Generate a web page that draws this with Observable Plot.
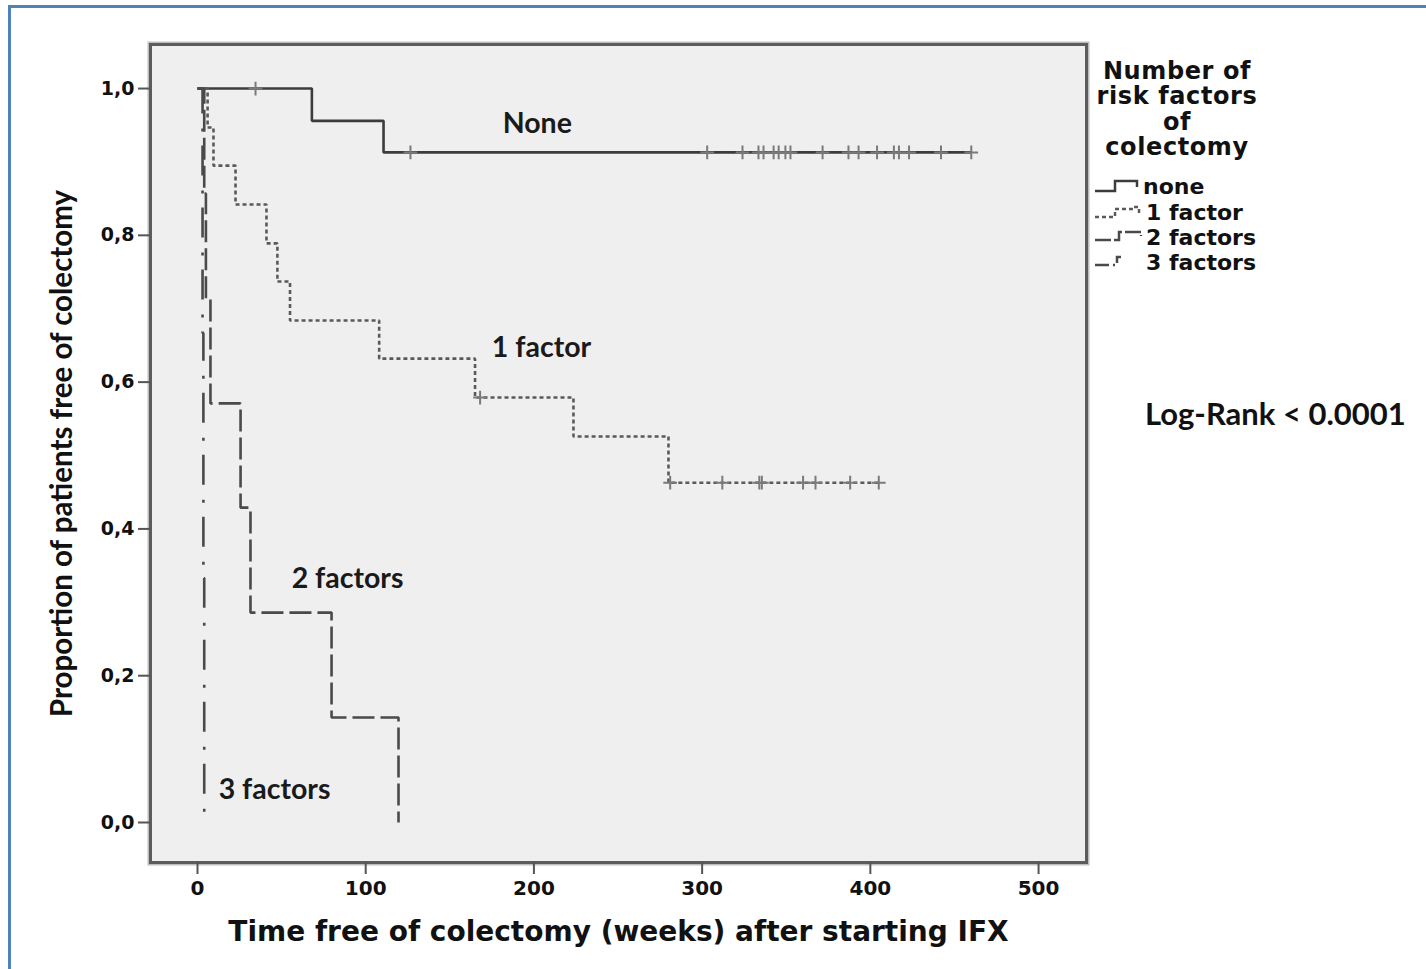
<!DOCTYPE html>
<html>
<head>
<meta charset="utf-8">
<script src="https://cdn.jsdelivr.net/npm/d3@7"></script>
<script src="https://cdn.jsdelivr.net/npm/@observablehq/plot@0.6"></script>
<style>
  body { margin: 0; background: #fff; }
  #wrap { position: relative; width: 1426px; height: 969px; overflow: hidden; background: #fff; }
  #border { position: absolute; left: 8px; top: 5px; width: 1430px; height: 980px;
            border-left: 3px solid #4f81bd; border-top: 3px solid #4f81bd; }
  #chart { position: absolute; left: 0; top: 0; }
  .leg { position: absolute; font-family: "DejaVu Sans", sans-serif; font-weight: bold; color: #111; white-space: nowrap; }
  #legtitle { left: 1077px; width: 200px; top: 59px; text-align: center; font-size: 24px; letter-spacing: 0.6px; line-height: 25.3px; }
  .item { font-size: 22px; line-height: 25px; }
  .sw { position: absolute; }
  #logrank { position: absolute; left: 1145px; top: 393px; font-family: Lato, sans-serif; font-weight: 700; font-size: 31px; line-height: 40px; color: #111; white-space: nowrap; }
</style>
</head>
<body>
<div id="wrap">
  <div id="border"></div>
  <div id="chart"></div>
  <div id="legend"></div>
  <div id="logrank">Log-Rank &lt; 0.0001</div>
</div>
<script>
// ---- data ----
const groups = ["None", "1 factor", "2 factors", "3 factors"];
const legendNames = ["none", "1 factor", "2 factors", "3 factors"];
const legendTitle = ["Number of", "risk factors", "of", "colectomy"];

const noneTimes = [0, 68, 110.6, 460];
const noneSurv  = [1, 0.956, 0.913, 0.913];
const noneCensorT = [34.5, 126.6, 303, 324, 333.5, 336.5, 342.5, 345.5, 349.5, 352.5, 371.6, 387, 393, 404, 414, 417, 423, 442, 460];
const noneCensorS = [1, 0.913, 0.913, 0.913, 0.913, 0.913, 0.913, 0.913, 0.913, 0.913, 0.913, 0.913, 0.913, 0.913, 0.913, 0.913, 0.913, 0.913, 0.913];

const oneTimes = [0, 6, 9.5, 22.6, 41, 47.5, 55, 108, 165, 223.5, 280, 405];
const oneSurv  = [1, 0.947, 0.895, 0.842, 0.789, 0.737, 0.684, 0.632, 0.579, 0.526, 0.463, 0.463];
const oneCensorT = [168, 281, 312, 334, 335.5, 360, 367.4, 388, 405];
const oneCensorS = [0.579, 0.463, 0.463, 0.463, 0.463, 0.463, 0.463, 0.463, 0.463];

const twoTimes = [0, 4, 5, 7.7, 25.6, 31.5, 79.7, 119.5];
const twoSurv  = [1, 0.857, 0.714, 0.571, 0.429, 0.286, 0.143, 0];

const threeTimes = [0, 3, 3.5, 4];
const threeSurv  = [1, 0.667, 0.333, 0];

const xTicks = [0, 100, 200, 300, 400, 500];
const yTicks = [0, 0.2, 0.4, 0.6, 0.8, 1.0];

const labelText = ["None", "1 factor", "2 factors", "3 factors"];
const labelT = [202, 204.5, 89.2, 45.8];
const labelS = [0.952, 0.646, 0.332, 0.045];

const xTitle = "Time free of colectomy (weeks) after starting IFX";
const yTitle = "Proportion of patients free of colectomy";

// ---- styles per group ----
const styles = {
  "None":      {stroke: "#3c3c3c", dash: null},
  "1 factor":  {stroke: "#5a5a5a", dash: "4,3"},
  "2 factors": {stroke: "#4a4a4a", dash: "22,6"},
  "3 factors": {stroke: "#4a4a4a", dash: "30,15,3,14"}
};

const series = [
  {g: "None", t: noneTimes, s: noneSurv},
  {g: "1 factor", t: oneTimes, s: oneSurv},
  {g: "2 factors", t: twoTimes, s: twoSurv},
  {g: "3 factors", t: threeTimes, s: threeSurv}
];

const stepRows = s => s.t.map((t, i) => ({t, s: s.s[i], g: s.g}));

const censorRows = [
  ...noneCensorT.map((t, i) => ({t, s: noneCensorS[i]})),
  ...oneCensorT.map((t, i) => ({t, s: oneCensorS[i]}))
];

const labels = labelText.map((text, i) => ({text, t: labelT[i], s: labelS[i]}));

const fmt = d => d.toFixed(1).replace(".", ",");

const lineMarks = series.map(s => Plot.line(stepRows(s), {
  x: "t", y: "s", curve: "step-after",
  stroke: styles[s.g].stroke, strokeWidth: 2.6,
  strokeDasharray: styles[s.g].dash || undefined,
  strokeLinecap: "butt", strokeLinejoin: "miter"
}));

const chart = Plot.plot({
  width: 1426,
  height: 969,
  marginLeft: 150,
  marginRight: 340,
  marginTop: 44,
  marginBottom: 107,
  style: {background: "transparent", fontFamily: "DejaVu Sans"},
  x: {domain: [-27.94, 528.5]},
  y: {domain: [-0.0545, 1.06]},
  marks: [
    Plot.frame({stroke: "#bdbdbd", strokeWidth: 6}),
    Plot.frame({fill: "#efefef", stroke: "#5c5c5c", strokeWidth: 3}),
    Plot.axisY({ticks: yTicks, tickFormat: fmt, tickSize: 12, tickPadding: 4,
      stroke: "#555", strokeWidth: 2, fill: "#111", fontSize: 19, fontWeight: "bold", label: null}),
    Plot.axisX({ticks: xTicks, tickSize: 12, tickPadding: 6,
      stroke: "#555", strokeWidth: 2, fill: "#111", fontSize: 20, fontWeight: "bold", label: null}),
    ...lineMarks,
    Plot.dot(censorRows, {x: "t", y: "s", symbol: "plus", r: 4.5, stroke: "#7a7a7a", strokeWidth: 2, fill: "none"}),
    Plot.text(labels, {x: "t", y: "s", text: "text", fontFamily: "Lato", fontWeight: 700, fontSize: 28.5, fill: "#1a1a1a"}),
    Plot.text([xTitle], {frameAnchor: "bottom", dy: 70, lineAnchor: "middle", fontFamily: "DejaVu Sans", fontWeight: "bold", fontSize: 28, fill: "#111"}),
    Plot.text([yTitle], {frameAnchor: "left", dx: -88, rotate: -90, textAnchor: "middle", lineAnchor: "middle", fontFamily: "Lato", fontWeight: 700, fontSize: 29.5, fill: "#111"})
  ]
});
document.getElementById("chart").appendChild(chart);

// ---- legend (HTML) ----
const leg = document.getElementById("legend");
const t = document.createElement("div");
t.className = "leg";
t.id = "legtitle";
t.innerHTML = legendTitle.join("<br>");
leg.appendChild(t);

const centers = [186, 212, 237, 262];
const textLeft = [1143, 1146, 1146, 1146];
const swPaths = [
  "M0,14 H20 V4 H42 V10",
  "M0,14 H20 V6 H38 V4 H44 V10",
  "M0,12 H24 V4 H46 V8",
  "M0,12 H22 V4 H26"
];
legendNames.forEach((name, i) => {
  const st = styles[groups[i]];
  const ns = "http://www.w3.org/2000/svg";
  const svg = document.createElementNS(ns, "svg");
  svg.setAttribute("width", 48); svg.setAttribute("height", 18);
  svg.setAttribute("class", "sw");
  svg.style.left = "1095px";
  svg.style.top = (centers[i] - 9) + "px";
  const p = document.createElementNS(ns, "path");
  p.setAttribute("d", swPaths[i]);
  p.setAttribute("fill", "none");
  p.setAttribute("stroke", st.stroke);
  p.setAttribute("stroke-width", 2.5);
  if (st.dash) p.setAttribute("stroke-dasharray", i === 1 ? "4,3" : (i === 2 ? "16,3" : "14,4,2,4"));
  svg.appendChild(p);
  leg.appendChild(svg);
  const d = document.createElement("div");
  d.className = "leg item";
  d.style.left = textLeft[i] + "px";
  d.style.top = (centers[i] - 12.5) + "px";
  d.textContent = name;
  leg.appendChild(d);
});
</script>
</body>
</html>
